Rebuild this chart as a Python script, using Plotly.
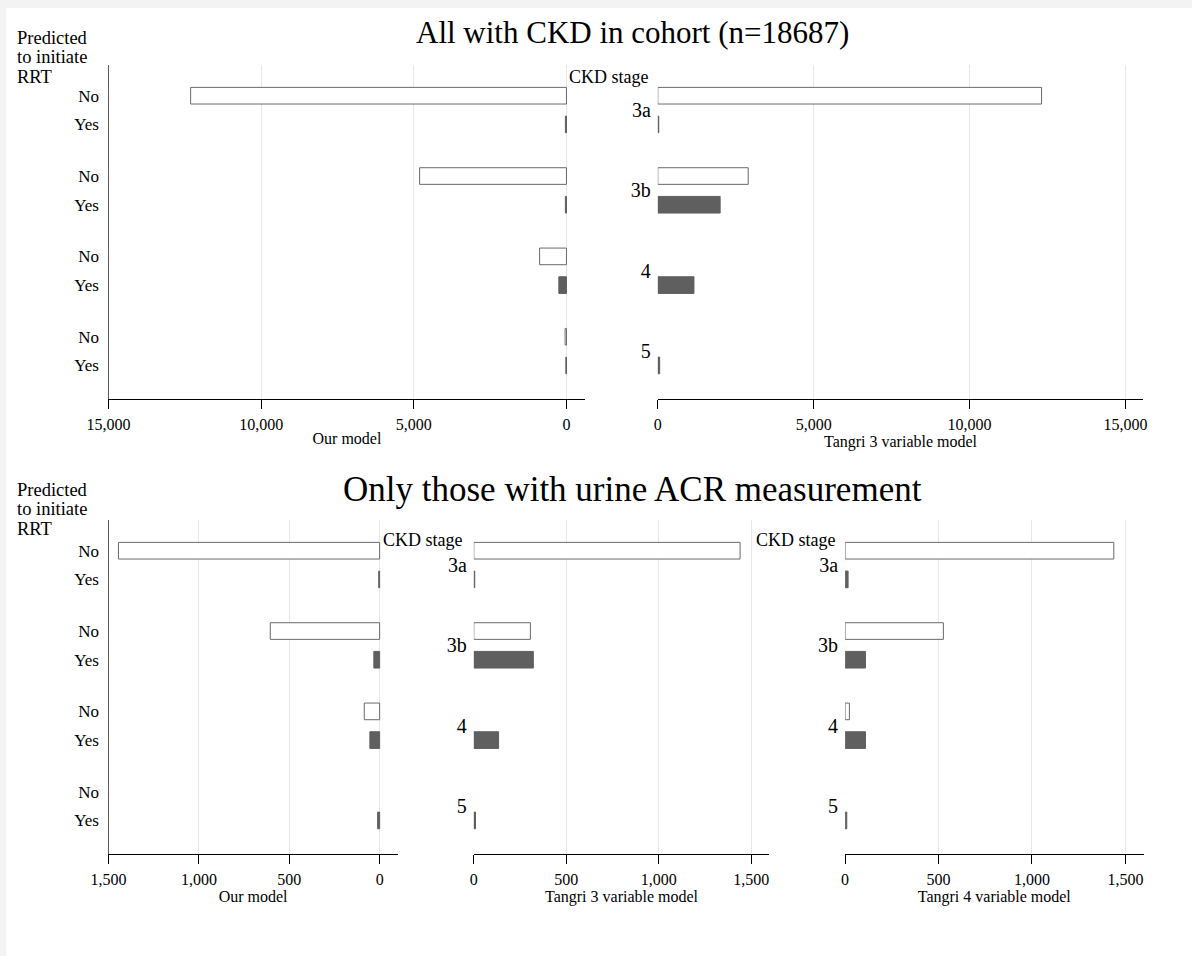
import plotly.graph_objects as go

W, H = 1192, 956

# ---------------- data ----------------
stages = ["3a", "3b", "4", "5"]
rrt_labels = ["No", "Yes"]

# All with CKD in cohort (n=18687)
top_our_no = [12310, 4810, 880, 45]
top_our_yes = [35, 35, 250, 20]
top_t3_no = [12310, 2900, 0, 0]
top_t3_yes = [30, 2000, 1160, 60]

# Only those with urine ACR measurement
bot_our_no = [1445, 605, 85, 0]
bot_our_yes = [5, 32, 54, 11]
bot_t3_no = [1440, 306, 0, 0]
bot_t3_yes = [5, 322, 134, 9]
bot_t4_no = [1438, 526, 23, 0]
bot_t4_yes = [16, 109, 109, 9]

top_ticks = [0, 5000, 10000, 15000]
bot_ticks = [0, 500, 1000, 1500]

# ---------------- layout helpers ----------------
FONT = "Liberation Serif"
GROUP_STEP = 2.8
no_pos = [i * GROUP_STEP for i in range(len(stages))]
yes_pos = [p + 1 for p in no_pos]
grp_pos = [p + 0.5 for p in no_pos]
row_pos = [v for pair in zip(no_pos, yes_pos) for v in pair]
row_txt = [t for _ in stages for t in rrt_labels]
Y_RANGE = [10.57, -1.07]

WHITE_FILL = "white"
DARK_FILL = "#5f5f5f"
EDGE = "#6a6a6a"
GRID = "#e6e6e6"


def px(x0, x1):
    return [x0 / W, x1 / W]


def py(y0, y1):
    return [1 - y1 / H, 1 - y0 / H]


def edge_widths(vals):
    return [1 if v > 0 else 0 for v in vals]


fig = go.Figure()

panels = [
    ("", top_our_no, top_our_yes, (108.5, 585.4), (65, 399), [15000, -620], top_ticks, "Our model", True),
    ("2", top_t3_no, top_t3_yes, (657.8, 1143.2), (65, 399), [0, 15570], top_ticks, "Tangri 3 variable model", False),
    ("3", bot_our_no, bot_our_yes, (108.5, 397.7), (520, 854), [1500, -100], bot_ticks, "Our model", True),
    ("4", bot_t3_no, bot_t3_yes, (473.8, 769.3), (520, 854), [0, 1598], bot_ticks, "Tangri 3 variable model", False),
    ("5", bot_t4_no, bot_t4_yes, (845.1, 1143.5), (520, 854), [0, 1597], bot_ticks, "Tangri 4 variable model", False),
]

for aid, vno, vyes, xd, yd, rng, ticks, title, left in panels:
    xa = "x" + aid
    ya = "y" + aid
    fig.add_trace(go.Bar(
        orientation="h", x=vno, y=no_pos, width=0.58,
        marker=dict(color=WHITE_FILL, line=dict(color=EDGE, width=edge_widths(vno))),
        xaxis=xa, yaxis=ya, showlegend=False, hoverinfo="x",
    ))
    fig.add_trace(go.Bar(
        orientation="h", x=vyes, y=yes_pos, width=0.58,
        marker=dict(color=DARK_FILL, line=dict(color=DARK_FILL, width=edge_widths(vyes))),
        xaxis=xa, yaxis=ya, showlegend=False, hoverinfo="x",
    ))
    xkey = "xaxis" + aid
    ykey = "yaxis" + aid
    fig.layout[xkey] = dict(
        domain=px(*xd), anchor=ya, range=rng, tickvals=ticks, tickformat=",",
        showgrid=True, gridcolor=GRID, gridwidth=1, zeroline=False,
        showline=True, linecolor="black", linewidth=1.2,
        ticks="outside", ticklen=9, tickcolor="black", tickwidth=1.2,
        tickfont=dict(family=FONT, size=16, color="black"),
        ticklabelstandoff=2,
        title=dict(text=title, font=dict(family=FONT, size=16, color="black"), standoff=0),
        automargin=False, fixedrange=True,
    )
    if left:
        fig.layout[ykey] = dict(
            domain=py(*yd), anchor=xa, range=Y_RANGE,
            tickvals=row_pos, ticktext=row_txt, ticks="",
            showgrid=False, zeroline=False,
            showline=True, linecolor="#5a5a5a", linewidth=1.3,
            tickfont=dict(family=FONT, size=17, color="black"),
            ticklabelstandoff=5, automargin=False, fixedrange=True,
        )
    else:
        fig.layout[ykey] = dict(
            domain=py(*yd), anchor=xa, range=Y_RANGE,
            tickvals=grp_pos, ticktext=stages, ticks="",
            showgrid=False, zeroline=False, showline=False,
            tickfont=dict(family=FONT, size=20, color="black"),
            ticklabelstandoff=6, automargin=False, fixedrange=True,
        )

annots = []


def add_text(txt, x, y, size, xanchor="left"):
    annots.append(dict(text=txt, x=x / W, y=1 - y / H, xref="paper", yref="paper",
                       xanchor=xanchor, yanchor="middle", showarrow=False,
                       font=dict(family=FONT, size=size, color="black")))


add_text("All with CKD in cohort (n=18687)", 632, 33, 31, "center")
add_text("Only those with urine ACR measurement", 632, 489, 35, "center")
for base in (38, 490):
    add_text("Predicted", 15, base, 18.5)
    add_text("to initiate", 15, base + 19.3, 18.5)
    add_text("RRT", 15, base + 38.6, 18.5)
add_text("CKD stage", 651, 77, 18, "right")
add_text("CKD stage", 465, 540, 18, "right")
add_text("CKD stage", 838, 540, 18, "right")

fig.update_layout(
    template="none",
    width=W, height=H, margin=dict(l=0, r=0, t=0, b=0, autoexpand=False),
    paper_bgcolor="white", plot_bgcolor="white",
    barmode="overlay", annotations=annots, showlegend=False,
    shapes=[
        dict(type="rect", xref="paper", yref="paper", x0=0, x1=1, y0=0, y1=1,
             line=dict(width=0), fillcolor="#f3f3f3", layer="below"),
        dict(type="rect", xref="paper", yref="paper", x0=6 / W, x1=1, y0=0, y1=1 - 8 / H,
             line=dict(width=0), fillcolor="white", layer="below"),
    ],
)

fig.write_html(
    "out.html",
    config={"displayModeBar": False},
    post_script="document.body.style.margin='0';document.body.style.overflow='hidden';",
)
